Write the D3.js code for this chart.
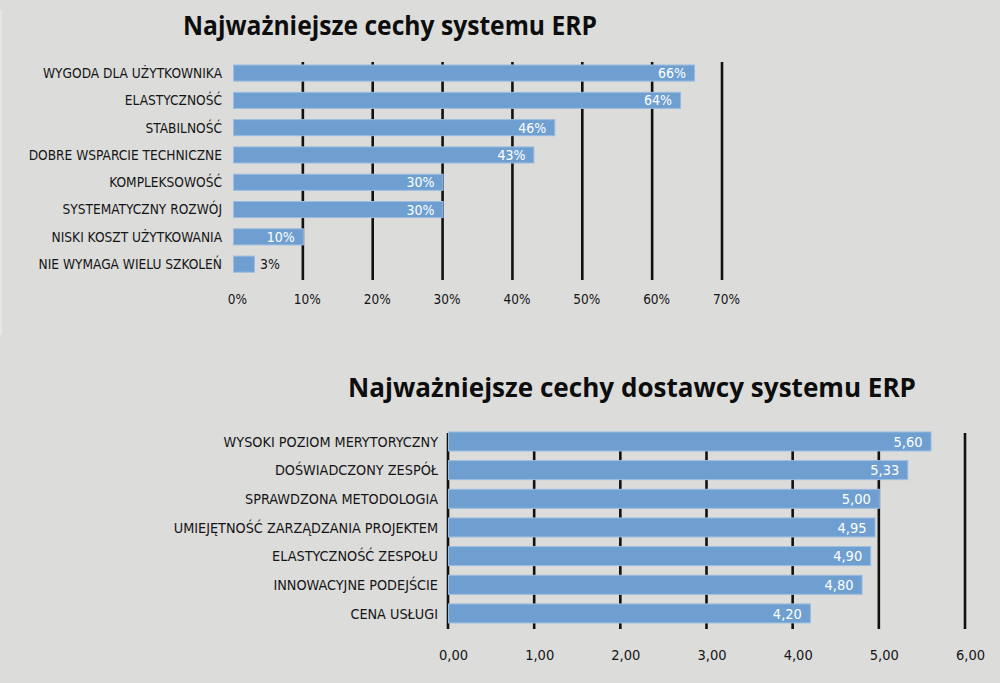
<!DOCTYPE html>
<html><head><meta charset="utf-8">
<script src="https://cdn.jsdelivr.net/npm/d3@7/dist/d3.min.js"></script>
<style>
html,body{margin:0;padding:0;background:#dcdcdb;}
svg{display:block;}
</style></head>
<body><svg id="c" width="1000" height="683"></svg>
<script>
// ---- Data: chart 1 ----
const title1 = "Najważniejsze cechy systemu ERP";
const cats1 = ["WYGODA DLA UŻYTKOWNIKA","ELASTYCZNOŚĆ","STABILNOŚĆ","DOBRE WSPARCIE TECHNICZNE","KOMPLEKSOWOŚĆ","SYSTEMATYCZNY ROZWÓJ","NISKI KOSZT UŻYTKOWANIA","NIE WYMAGA WIELU SZKOLEŃ"];
const vals1 = [66,64,46,43,30,30,10,3];
const ticks1 = [0,10,20,30,40,50,60,70];
// ---- Data: chart 2 ----
const title2 = "Najważniejsze cechy dostawcy systemu ERP";
const cats2 = ["WYSOKI POZIOM MERYTORYCZNY","DOŚWIADCZONY ZESPÓŁ","SPRAWDZONA METODOLOGIA","UMIEJĘTNOŚĆ ZARZĄDZANIA PROJEKTEM","ELASTYCZNOŚĆ ZESPOŁU","INNOWACYJNE PODEJŚCIE","CENA USŁUGI"];
const vals2 = [5.60,5.33,5.00,4.95,4.90,4.80,4.20];
const ticks2 = [0,1,2,3,4,5,6];

const svg = d3.select("#c");
const BAR = "#6e9fd0", BARSTROKE = "#9cbde0", TXT = "#151515";
const LABEL_FONT = "'DejaVu Sans Condensed','Liberation Sans Narrow',sans-serif";
const TITLE_FONT = "'Open Sans','DejaVu Sans',sans-serif";

svg.append("rect").attr("x",0).attr("y",0).attr("width",1000).attr("height",683).attr("fill","#dcdcdb");
svg.append("rect").attr("x",0).attr("y",10).attr("width",2).attr("height",325).attr("fill","#e6e6e5");

function drawChart(o){
  const x = d3.scaleLinear().domain(o.domain).range(o.xr);
  const y = d3.scaleBand().domain(o.cats).range(o.yr).padding(o.pad);
  const g = svg.append("g");
  // title
  g.append("text").attr("x",o.tx).attr("y",o.ty).text(o.title)
    .attr("font-family",TITLE_FONT).attr("font-weight",700).attr("font-size",o.tsize)
    .attr("fill","#0d0d0d").attr("textLength",o.tlen).attr("lengthAdjust","spacingAndGlyphs");
  // gridlines
  g.selectAll("line.grid").data(o.ticks).join("line")
    .attr("x1",d=>x(d)).attr("x2",d=>x(d))
    .attr("y1",o.gy[0]).attr("y2",o.gy[1])
    .attr("stroke","#111").attr("stroke-width",2.6)
    .attr("display",d=>(d===0 && !o.zeroLine)?"none":null);
  // axis tick labels
  const ax = d3.axisBottom(x).tickValues(o.ticks).tickFormat(o.tfmt).tickSize(0).tickPadding(0);
  const axg = g.append("g").attr("transform",`translate(${o.tickDx},${o.tickY})`).call(ax);
  axg.select(".domain").remove();
  axg.selectAll("text").attr("font-family",LABEL_FONT).attr("font-size",o.tfs).attr("fill",TXT).attr("dy",0);
  // bars
  g.selectAll("rect.bar").data(o.vals).join("rect")
    .attr("x",x(0)+0.5).attr("y",(d,i)=>y(o.cats[i]))
    .attr("width",d=>x(d)-x(0)).attr("height",y.bandwidth())
    .attr("fill",BAR).attr("stroke",BARSTROKE).attr("stroke-width",1);
  // category labels
  g.selectAll("text.cat").data(o.cats).join("text")
    .attr("x",o.lx).attr("y",d=>y(d)+y.bandwidth()/2).attr("dy","0.36em")
    .attr("text-anchor","end").attr("font-family",LABEL_FONT).attr("font-size",o.fs)
    .attr("fill",TXT).text(d=>d);
  // value labels
  g.selectAll("text.val").data(o.vals).join("text")
    .attr("x",d=>{const w=x(d)-x(0); return w>30? x(d)-8 : x(d)+6;})
    .attr("text-anchor",d=>(x(d)-x(0))>30?"end":"start")
    .attr("y",(d,i)=>y(o.cats[i])+y.bandwidth()/2).attr("dy","0.36em")
    .attr("font-family",LABEL_FONT).attr("font-size",o.vfs)
    .attr("fill",d=>(x(d)-x(0))>30?"#ffffff":TXT).text(o.vfmt);
}

drawChart({
  title:title1, tx:183, ty:35, tsize:27, tlen:414,
  cats:cats1, vals:vals1, ticks:ticks1, domain:[0,70], xr:[233,722],
  yr:[53.8,283.4], pad:0.41, gy:[62,280], zeroLine:false,
  tickY:304, tickDx:4, tfmt:d=>d+"%", lx:222, fs:13.6, tfs:13.5, vfs:14,
  vfmt:d=>d+"%"
});
drawChart({
  title:title2, tx:348, ty:397, tsize:27, tlen:568,
  cats:cats2, vals:vals2, ticks:ticks2, domain:[0,6], xr:[448,965],
  yr:[422.3,632.6], pad:0.337, gy:[433,629], zeroLine:true,
  tickY:660, tickDx:5, tfmt:d=>d3.format(".2f")(d).replace(".",","), lx:438, fs:14.3, tfs:14.5, vfs:14.5,
  vfmt:d=>d3.format(".2f")(d).replace(".",",")
});
</script>
</body></html>
